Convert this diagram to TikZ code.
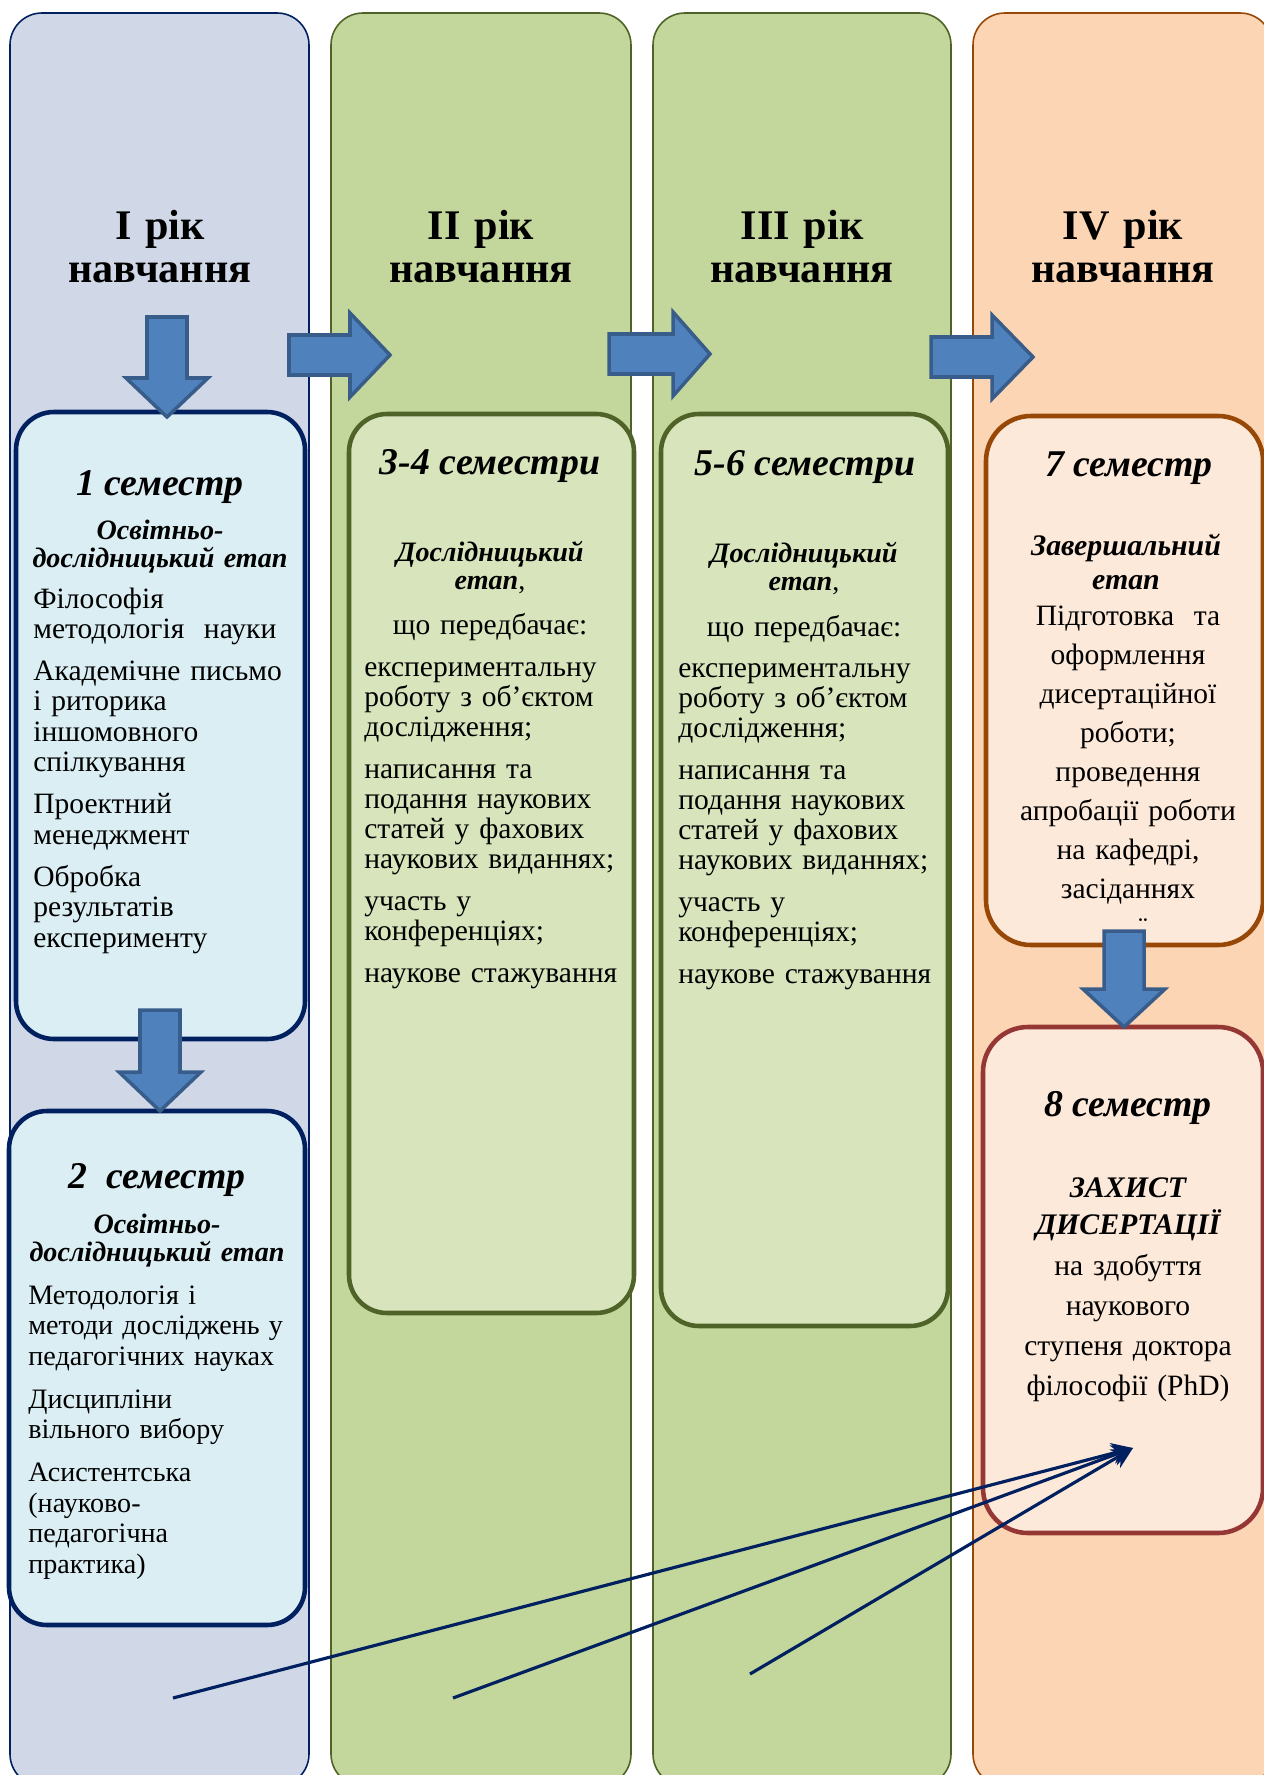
\documentclass[tikz,border=0pt]{standalone}
\usepackage{fontspec}
\setmainfont{Liberation Serif}
\usetikzlibrary{arrows.meta,fit}
\definecolor{yearone}{RGB}{208,216,232}
\definecolor{yeargreen}{RGB}{195,214,155}
\definecolor{yearpeach}{RGB}{252,213,180}
\definecolor{semblue}{RGB}{218,238,243}
\definecolor{semgreen}{RGB}{216,228,188}
\definecolor{sempeach}{RGB}{253,233,217}
\definecolor{navy}{RGB}{0,32,96}
\definecolor{olive}{RGB}{79,98,40}
\definecolor{rust}{RGB}{152,72,6}
\definecolor{wine}{RGB}{149,55,53}
\definecolor{arrowfill}{RGB}{79,129,189}
\definecolor{arrowedge}{RGB}{56,93,138}
\tikzstyle{yearbox} = [
    rounded corners=0.64cm,
    line width=0.9pt,
    inner sep=0pt
]
\tikzstyle{sembox} = [
    rounded corners=0.76cm,
    line width=2.6pt,
    inner sep=0pt
]
\tikzstyle{blockarrow} = [
    fill=arrowfill,
    draw=arrowedge,
    line width=2pt
]
\tikzstyle{pointer} = [
    line width=1.8pt,
    draw=navy,
    -{Stealth[length=12pt,width=12pt]}
]
\tikzstyle{yeartitle} = [
    font=\fontsize{24}{25}\selectfont\bfseries,
    text width=6cm,
    align=center,
    anchor=base,
    inner sep=0pt
]
\tikzstyle{semtitle} = [
    font=\fontsize{21.5}{23}\selectfont\bfseries\itshape,
    anchor=base,
    inner sep=0pt
]
\tikzstyle{stagetitle} = [
    font=\fontsize{16}{16}\selectfont\bfseries\itshape,
    text width=5.8cm,
    align=center,
    anchor=base,
    inner sep=0pt
]
\tikzstyle{bodylist} = [
    font=\fontsize{16.8}{17.2}\selectfont,
    text width=5.6cm,
    align=left,
    anchor=base west,
    inner sep=0pt
]
\tikzstyle{bodymid} = [
    font=\fontsize{16.8}{22.2}\selectfont,
    text width=5.5cm,
    align=center,
    anchor=base,
    inner sep=0pt
]
% block arrows: centre, start, head start, tip
\newcommand{\blockdown}[4]{%
  \draw[blockarrow] (#1-20,#2) -- (#1+20,#2) -- (#1+20,#3) -- (#1+41,#3) -- (#1,#4) -- (#1-41,#3) -- (#1-20,#3) -- cycle;}
\newcommand{\blockright}[4]{%
  \draw[blockarrow] (#2,#1-20) -- (#3,#1-20) -- (#3,#1-42) -- (#4,#1) -- (#3,#1+42) -- (#3,#1+20) -- (#2,#1+20) -- cycle;}

\begin{document}
\begin{tikzpicture}[x=0.02cm,y=-0.02cm]
    \useasboundingbox (0,0) rectangle (1264,1775);
    \clip (0,0) rectangle (1264,1775);

    % Year columns
    \node[yearbox, fill=yearone, draw=navy, fit={(10,13) (309,1786)}] (year1) {};
    \node[yearbox, fill=yeargreen, draw=olive, fit={(331,13) (631,1786)}] (year2) {};
    \node[yearbox, fill=yeargreen, draw=olive, fit={(653,13) (951,1786)}] (year3) {};
    \node[yearbox, fill=yearpeach, draw=rust, fit={(973,13) (1272,1786)}] (year4) {};

    % Year titles
    \node[yeartitle] (title1) at (160,239) {I рік\\навчання};
    \node[yeartitle] (title2) at (481,239) {II рік\\навчання};
    \node[yeartitle] (title3) at (802,239) {III рік\\навчання};
    \node[yeartitle] (title4) at (1123,239) {IV рік\\навчання};

    % Semester boxes
    \node[sembox, fill=semblue, draw=navy, fit={(16,412) (305,1039)}] (sem1) {};
    \node[sembox, fill=semblue, draw=navy, fit={(9,1111) (305,1625)}] (sem2) {};
    \node[sembox, fill=semgreen, draw=olive, fit={(349,414) (634,1313)}] (sem34) {};
    \node[sembox, fill=semgreen, draw=olive, fit={(661,414) (948,1326)}] (sem56) {};
    \node[sembox, rounded corners=0.9cm, fill=sempeach, draw=rust, fit={(986,416) (1263,945)}] (sem7) {};
    \node[sembox, rounded corners=0.9cm, fill=sempeach, draw=wine, fit={(983,1027) (1263,1533)}] (sem8) {};

    % 1 semester
    \node[semtitle] (head1) at (160,495) {1 семестр};
    \node[stagetitle] (stage1) at (160,539) {Освітньо-\\дослідницький етап};
    \node[bodylist] (body1) at (33,608) {Філософія\\методологія~ науки\\[7pt]Академічне письмо\\і риторика\\іншомовного\\спілкування\\[7pt]Проектний\\менеджмент\\[7pt]Обробка\\результатів\\експерименту};

    % 2 semester
    \node[semtitle] (head2) at (157,1188) {2~ семестр};
    \node[stagetitle] (stage2) at (157,1233) {Освітньо-\\дослідницький етап};
    \node[bodylist, font=\fontsize{16}{17.4}\selectfont] (body2) at (28,1304) {Методологія і\\методи досліджень у\\педагогічних науках\\[7pt]Дисципліни\\вільного вибору\\[7pt]Асистентська\\(науково-\\педагогічна\\практика)};

    % 3-4 semesters
    \node[semtitle] (head34) at (490,474) {3-4 семестри};
    \node[stagetitle] (stage34) at (490,561) {Дослідницький\\етап{\normalfont,}};
    \node[bodymid] (note34) at (490,634) {що передбачає:};
    \node[bodylist] (body34) at (364,676) {експериментальну\\роботу з об’єктом\\дослідження;\\[6.5pt]написання та\\подання наукових\\статей у фахових\\наукових виданнях;\\[6.5pt]участь у\\конференціях;\\[6.5pt]наукове стажування};

    % 5-6 semesters
    \node[semtitle] (head56) at (805,475) {5-6 семестри};
    \node[stagetitle] (stage56) at (804,562) {Дослідницький\\етап{\normalfont,}};
    \node[bodymid] (note56) at (804,636) {що передбачає:};
    \node[bodylist] (body56) at (678,677) {експериментальну\\роботу з об’єктом\\дослідження;\\[6.5pt]написання та\\подання наукових\\статей у фахових\\наукових виданнях;\\[6.5pt]участь у\\конференціях;\\[6.5pt]наукове стажування};

    % 7 semester
    \node[semtitle] (head7) at (1129,476) {7 семестр};
    \node[stagetitle, font=\fontsize{17}{19.4}\selectfont\bfseries\itshape] (stage7) at (1126,555) {Завершальний\\етап};
    \node[bodymid] (body7) at (1128,625) {Підготовка~ та\\оформлення\\дисертаційної\\роботи;\\проведення\\апробації роботи\\на кафедрі,\\засіданнях};
    \node[font=\fontsize{16}{16}\selectfont, anchor=base, inner sep=0pt] (trail7) at (1143,936) {¨};

    % 8 semester
    \node[semtitle] (head8) at (1128,1116) {8 семестр};
    \node[stagetitle, font=\fontsize{17}{21.6}\selectfont\bfseries\itshape] (stage8) at (1128,1197) {ЗАХИСТ\\ДИСЕРТАЦІЇ};
    \node[bodymid, font=\fontsize{16.8}{22.8}\selectfont] (body8) at (1128,1275) {на здобуття\\наукового\\ступеня доктора\\філософії (PhD)};

    % Block arrows
    \blockdown{167}{317}{378}{417}
    \blockdown{160}{1010}{1072}{1111}
    \blockdown{1124}{931}{989}{1027}
    \blockright{355}{289}{350}{390}
    \blockright{354}{609}{673}{710}
    \blockright{357}{931}{992}{1033}

    % Pointers to the defence
    \coordinate (phd) at (1133,1448);
    \coordinate (from1) at (173,1698);
    \coordinate (from2) at (453,1698);
    \coordinate (from3) at (750,1674);
    \draw[pointer] (from1) -- (phd);
    \draw[pointer] (from2) -- (phd);
    \draw[pointer] (from3) -- (phd);
\end{tikzpicture}
\end{document}
